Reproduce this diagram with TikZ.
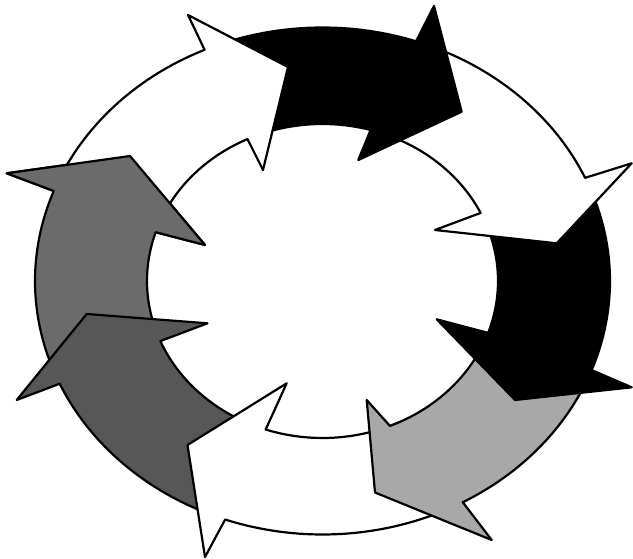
\documentclass[tikz,border=0pt]{standalone}
\newcommand{\RCx}{322.5}
\newcommand{\RCy}{281}
\newcommand{\ROx}{287.5}
\newcommand{\ROy}{253.5}
\newcommand{\RIx}{175.5}
\newcommand{\RIy}{157}
% #1 style, #2 tail angle, #3 outer neck angle, #4 inner neck angle, #5 outer barb, #6 apex, #7 inner barb
\newcommand{\ringarrow}[7]{%
  \path[#1] plot[variable=\t, domain=0:1, samples=40]
      ({\RCx+\ROx*cos(#2+(#3-#2)*\t)},{\RCy+\ROy*sin(#2+(#3-#2)*\t)})
    -- (#5) -- (#6) -- (#7)
    -- plot[variable=\t, domain=0:1, samples=40]
      ({\RCx+\RIx*cos(#4+(#2-#4)*\t)},{\RCy+\RIy*sin(#4+(#2-#4)*\t)})
    -- cycle;}
\begin{document}
\begin{tikzpicture}[x=1pt,y=-1pt,
  outl/.style={draw=black,line width=2.2pt,line join=round,line cap=round},
  whitearrow/.style={outl,fill=white},
  blackarrow/.style={outl,fill=black},
  lightarrow/.style={outl,fill=black!34},
  darkarrow/.style={outl,fill=black!66},
  midarrow/.style={outl,fill=black!58}]
\useasboundingbox (0,0) rectangle (633,559);
\fill[white] (0,0) rectangle (633,559);
% head points
\coordinate (Hob) at (6.7,173.3);   \coordinate (Hap) at (130,156);     \coordinate (Hib) at (205,245);
\coordinate (Gob) at (16.7,400);    \coordinate (Gap) at (86.7,314);    \coordinate (Gib) at (207.5,323.3);
\coordinate (Fob) at (205,557);     \coordinate (Fap) at (187.5,445);   \coordinate (Fib) at (286.7,383.3);
\coordinate (Eob) at (491.7,540);   \coordinate (Eap) at (375,492.5);   \coordinate (Eib) at (366.7,400);
\coordinate (Dob) at (631.7,387.3); \coordinate (Dap) at (515,400);     \coordinate (Dib) at (436.7,319.3);
\coordinate (Cob) at (631.7,163.3); \coordinate (Cap) at (556.7,243.3); \coordinate (Cib) at (435,230);
\coordinate (Bob) at (434,6);       \coordinate (Bap) at (461.7,111.7); \coordinate (Bib) at (358.3,160);
\coordinate (Aob) at (188,15);      \coordinate (Aap) at (288,67);      \coordinate (Aib) at (263,170);
\coordinate (Hon) at ({\RCx+\ROx*cos(200.8)},{\RCy+\ROy*sin(200.8)});
\coordinate (Hin) at ({\RCx+\RIx*cos(198.1)},{\RCy+\RIy*sin(198.1)});
% arrows, drawn so that each head lies over the tail of the next one
\ringarrow{midarrow}{160}{200.8}{198.1}{Hob}{Hap}{Hib}
\ringarrow{darkarrow}{113}{156.1}{157.5}{Gob}{Gap}{Gib}
\ringarrow{whitearrow}{64}{109.8}{108.9}{Fob}{Fap}{Fib}
\ringarrow{lightarrow}{24}{60.8}{67.4}{Eob}{Eap}{Eib}
\ringarrow{blackarrow}{340}{380.6}{379.3}{Dob}{Dap}{Dib}
\ringarrow{whitearrow}{293}{336}{334.3}{Cob}{Cap}{Cib}
\ringarrow{blackarrow}{250}{289}{285.9}{Bob}{Bap}{Bib}
\ringarrow{whitearrow}{203}{245.8}{244.7}{Aob}{Aap}{Aib}
% head of the upper left arrow again, over the tail of the white arrow
\fill[black!58] (Hon) -- (Hob) -- (Hap) -- (Hib) -- (Hin) -- cycle;
\draw[outl] (Hon) -- (Hob) -- (Hap) -- (Hib) -- (Hin);
\end{tikzpicture}
\end{document}
